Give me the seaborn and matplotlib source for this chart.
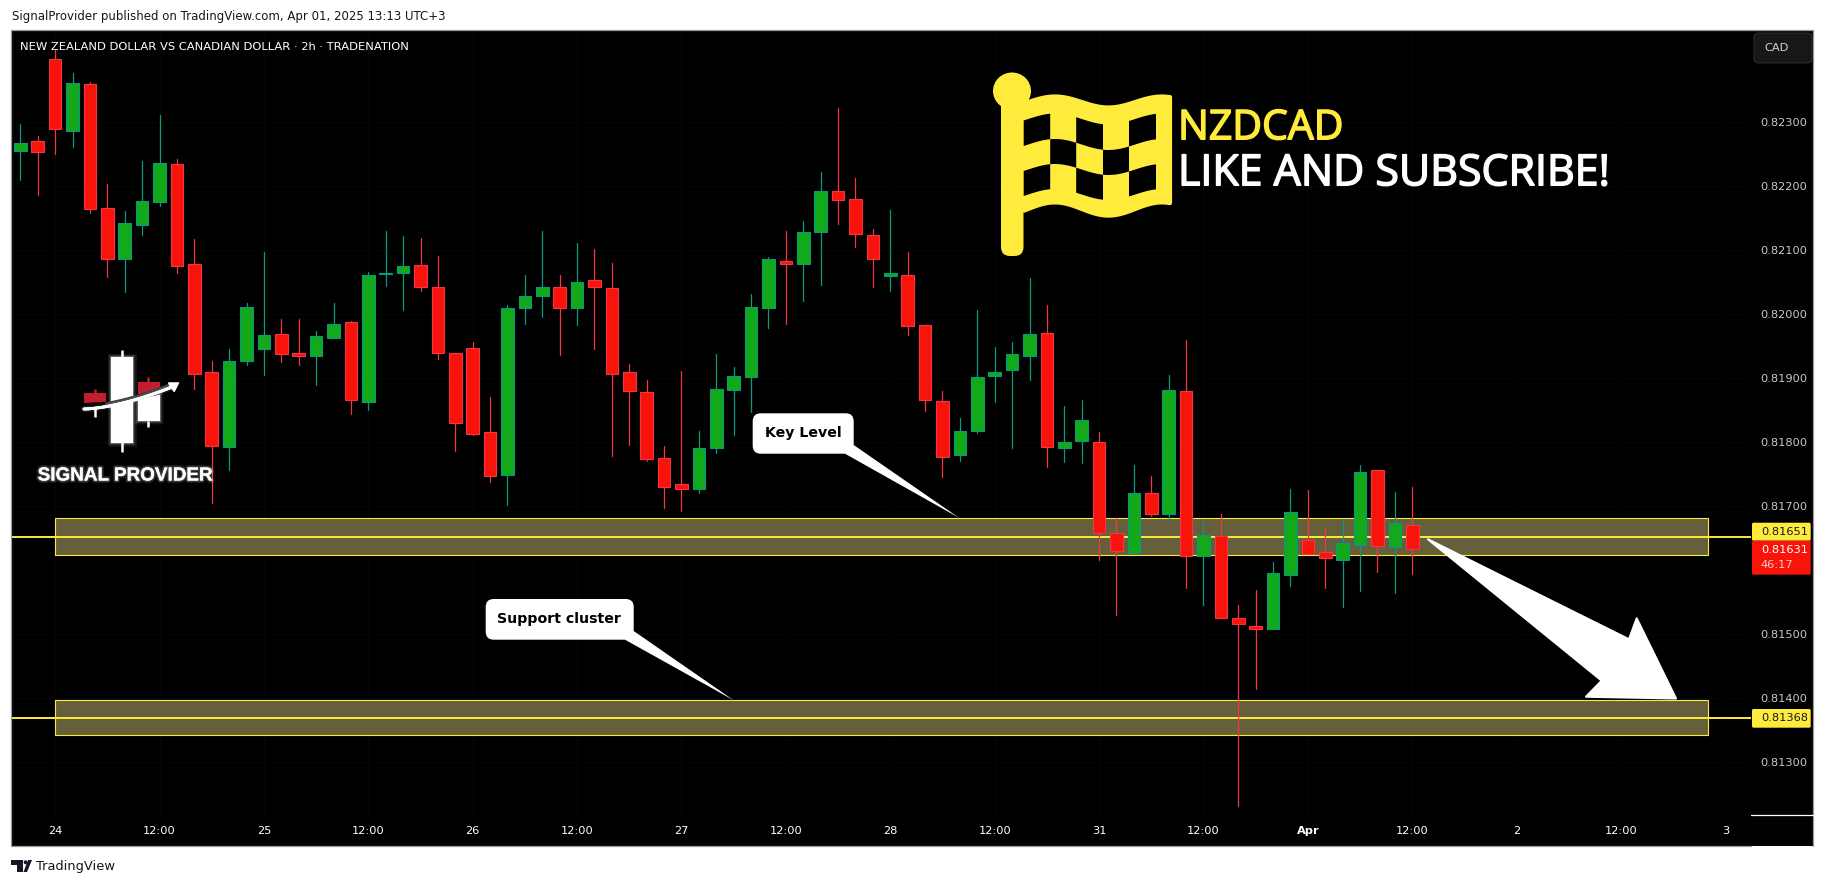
import numpy as np
import pandas as pd
import seaborn as sns
from matplotlib import pyplot as plt
from matplotlib.patches import Polygon, Rectangle, FancyBboxPatch, Ellipse
from matplotlib.transforms import Affine2D
import matplotlib.patheffects as pe

# 2h candles
opens = [0.82256, 0.82271, 0.82399, 0.82287, 0.82360, 0.82166, 0.82087, 0.82140, 0.82176, 0.82235,
         0.82078, 0.81909, 0.81793, 0.81926, 0.81945, 0.81969, 0.81939, 0.81935, 0.81962, 0.81987,
         0.81863, 0.82063, 0.82064, 0.82077, 0.82042, 0.81939, 0.81947, 0.81815, 0.81749, 0.82009,
         0.82029, 0.82042, 0.82010, 0.82053, 0.82041, 0.81909, 0.81879, 0.81775, 0.81735, 0.81726,
         0.81791, 0.81882, 0.81901, 0.82010, 0.82083, 0.82079, 0.82129, 0.82192, 0.82180, 0.82124,
         0.82059, 0.82062, 0.81983, 0.81864, 0.81780, 0.81818, 0.81904, 0.81912, 0.81935, 0.81970,
         0.81790, 0.81801, 0.81800, 0.81657, 0.81627, 0.81720, 0.81687, 0.81880, 0.81621, 0.81653,
         0.81524, 0.81513, 0.81508, 0.81592, 0.81646, 0.81628, 0.81616, 0.81639, 0.81756, 0.81636,
         0.81670]
highs = [0.82298, 0.82279, 0.82413, 0.82378, 0.82364, 0.82204, 0.82162, 0.82239, 0.82312, 0.82243,
         0.82118, 0.81927, 0.81946, 0.82018, 0.82097, 0.81993, 0.81993, 0.81974, 0.82018, 0.81989,
         0.82066, 0.82130, 0.82123, 0.82119, 0.82091, 0.81939, 0.81957, 0.81871, 0.82015, 0.82062,
         0.82130, 0.82062, 0.82112, 0.82102, 0.82080, 0.81922, 0.81897, 0.81794, 0.81911, 0.81817,
         0.81938, 0.81918, 0.82032, 0.82090, 0.82130, 0.82146, 0.82223, 0.82323, 0.82213, 0.82134,
         0.82163, 0.82098, 0.81983, 0.81880, 0.81838, 0.82007, 0.81949, 0.81957, 0.82057, 0.82014,
         0.81856, 0.81866, 0.81816, 0.81681, 0.81764, 0.81747, 0.81905, 0.81960, 0.81676, 0.81687,
         0.81545, 0.81569, 0.81613, 0.81727, 0.81725, 0.81667, 0.81680, 0.81764, 0.81756, 0.81722,
         0.81730]
lows = [0.82210, 0.82187, 0.82251, 0.82262, 0.82159, 0.82058, 0.82035, 0.82124, 0.82170, 0.82065,
        0.81883, 0.81705, 0.81756, 0.81921, 0.81905, 0.81925, 0.81921, 0.81889, 0.81962, 0.81844,
        0.81850, 0.82044, 0.82007, 0.82036, 0.81930, 0.81786, 0.81811, 0.81738, 0.81702, 0.81985,
        0.81996, 0.81936, 0.81983, 0.81946, 0.81778, 0.81795, 0.81770, 0.81697, 0.81692, 0.81720,
        0.81783, 0.81811, 0.81847, 0.81979, 0.81985, 0.82021, 0.82046, 0.82141, 0.82105, 0.82043,
        0.82036, 0.81967, 0.81848, 0.81746, 0.81771, 0.81814, 0.81863, 0.81791, 0.81897, 0.81761,
        0.81769, 0.81767, 0.81615, 0.81529, 0.81627, 0.81684, 0.81678, 0.81571, 0.81545, 0.81525,
        0.81230, 0.81413, 0.81508, 0.81575, 0.81625, 0.81571, 0.81542, 0.81567, 0.81596, 0.81564,
        0.81593]
closes = [0.82268, 0.82253, 0.82289, 0.82361, 0.82164, 0.82086, 0.82142, 0.82177, 0.82236, 0.82076,
          0.81907, 0.81794, 0.81926, 0.82011, 0.81967, 0.81937, 0.81934, 0.81966, 0.81984, 0.81865,
          0.82061, 0.82064, 0.82075, 0.82043, 0.81940, 0.81830, 0.81813, 0.81747, 0.82009, 0.82028,
          0.82042, 0.82010, 0.82050, 0.82042, 0.81907, 0.81880, 0.81774, 0.81730, 0.81727, 0.81790,
          0.81883, 0.81903, 0.82011, 0.82086, 0.82079, 0.82128, 0.82192, 0.82178, 0.82126, 0.82086,
          0.82064, 0.81981, 0.81865, 0.81777, 0.81818, 0.81901, 0.81909, 0.81937, 0.81969, 0.81792,
          0.81800, 0.81835, 0.81658, 0.81629, 0.81720, 0.81688, 0.81881, 0.81622, 0.81654, 0.81525,
          0.81516, 0.81507, 0.81595, 0.81691, 0.81625, 0.81618, 0.81642, 0.81753, 0.81638, 0.81673,
          0.81632]

tick_bars = [2, 8, 14, 20, 26, 32, 38, 44, 50, 56, 62, 68, 74, 80, 86, 92, 98]
tick_labels = ['24', '12:00', '25', '12:00', '26', '12:00', '27', '12:00', '28', '12:00',
               '31', '12:00', 'Apr', '12:00', '2', '12:00', '3']
price_ticks = [0.823, 0.822, 0.821, 0.820, 0.819, 0.818, 0.817, 0.815, 0.814, 0.813]

key_level = 0.81651
key_zone = (0.81624, 0.81681)
support_level = 0.81368
support_zone = (0.81341, 0.81396)
zone_bars = (2, 97)
last_price = '0.81631'
countdown = '46:17'

UP_BODY, UP_WICK = '#12A91B', '#089981'
DOWN_BODY, DOWN_WICK = '#F8140A', '#F23645'
YELLOW = '#FFEB3B'

W, H = 1825, 886

candles = pd.DataFrame({'bar': np.arange(len(opens)), 'open': opens, 'high': highs,
                        'low': lows, 'close': closes})
candles['dir'] = np.where(candles['close'] >= candles['open'], 'up', 'down')
candles['bottom'] = candles[['open', 'close']].min(axis=1)
candles['body'] = (candles['close'] - candles['open']).abs()
wicks = candles.melt(id_vars=['bar', 'dir'], value_vars=['high', 'low'], value_name='price')

sns.set_theme(style='white')
plt.rcParams['font.family'] = ['DejaVu Sans']

fig = plt.figure(figsize=(W / 100, H / 100), dpi=100, facecolor='white')
ax = fig.add_axes([12 / W, 1 - 816 / H, (1751 - 12) / W, (816 - 31) / H], facecolor='black')

# overlay coordinates in screen pixels, for the drawn annotations only
px = Affine2D().scale(1 / W, -1 / H).translate(0, 1) + fig.transFigure

# zones and level lines sit below the candles
for low, high in (key_zone, support_zone):
    ax.add_patch(Rectangle((zone_bars[0], low), zone_bars[1] - zone_bars[0], high - low, facecolor='#665F3B',
                           edgecolor=YELLOW, linewidth=0.8, zorder=1.5))
for level in (key_level, support_level):
    ax.axhline(level, color=YELLOW, linewidth=1.4, zorder=1.6)

sns.lineplot(data=wicks, x='bar', y='price', hue='dir', units='bar', estimator=None,
             palette={'up': UP_WICK, 'down': DOWN_WICK}, linewidth=0.9, legend=False,
             sort=False, zorder=2.5, ax=ax)
for side, body, edge in (('up', UP_BODY, UP_WICK), ('down', DOWN_BODY, DOWN_WICK)):
    part = candles[candles['dir'] == side]
    sns.barplot(data=part, x='bar', y='body', bottom=part['bottom'].values, native_scale=True,
                width=0.73, color=body, saturation=1, edgecolor=edge, linewidth=0.8, zorder=3, ax=ax)

ax.set_xlim((12 - 20.3) / 17.4, (1751 - 20.3) / 17.4)
ax.set_ylim(0.81215, 0.82443)
ax.set_xlabel('')
ax.set_ylabel('')
ax.yaxis.tick_right()
ax.set_xticks(tick_bars)
ax.set_xticklabels(tick_labels, color='white', fontsize=8.2)
ax.set_yticks(price_ticks)
ax.set_yticklabels([f'{p:.5f}' for p in price_ticks], color='#C8C8C8', fontsize=8.2)
ax.tick_params(axis='x', length=0, pad=7.5, bottom=True)
ax.tick_params(axis='y', length=0, pad=6.5, right=True, left=False)
ax.set_axisbelow(True)
ax.grid(True, color='#070707', linewidth=0.7)
for lab in ax.get_xticklabels():
    if lab.get_text() == 'Apr':
        lab.set_fontweight('bold')
for s in ax.spines.values():
    s.set_visible(False)

# frame, time scale and price scale
fig.patches.extend([
    Rectangle((12, 816), 1739, 30, transform=px, facecolor='black', edgecolor='none', zorder=-1),
    Rectangle((1751, 31), 62, 815, transform=px, facecolor='black', edgecolor='none', zorder=-1),
])
for xs, ys, col in (([11.5, 1751], [846, 846], '#9A9A9A'),
                    ([1813, 1813], [846, 30], '#9A9A9A'),
                    ([11.5, 11.5, 1813], [846, 30, 30], '#9A9A9A'),
                    ([1751, 1813], [815.5, 815.5], 'white')):
    fig.add_artist(plt.Line2D(xs, ys, transform=px, color=col, linewidth=0.9, zorder=1))

# price labels
for y0, y1, col in ((522.7, 540.7, YELLOW), (709, 727.7, YELLOW), (540.7, 574.7, '#F8140A')):
    fig.add_artist(FancyBboxPatch((1752, y0), 58.7, y1 - y0, boxstyle='round,pad=0,rounding_size=1.5',
                                  transform=px, facecolor=col, edgecolor='none', zorder=3))
fig.text(1761, 532, f'{key_level:.5f}', transform=px, color='#131722', fontsize=8.2, va='center', zorder=4)
fig.text(1761, 718.5, f'{support_level:.5f}', transform=px, color='#131722', fontsize=8.2, va='center', zorder=4)
fig.text(1761, 550.5, last_price, transform=px, color='white', fontsize=8.2, va='center', zorder=4)
fig.text(1761, 565.5, countdown, transform=px, color='#FFC9C5', fontsize=8.2, va='center', zorder=4)

# currency button
fig.add_artist(FancyBboxPatch((1754, 33), 58, 30, boxstyle='round,pad=0,rounding_size=5', transform=px,
                              facecolor='#171717', edgecolor='#2B2B2B', linewidth=0.8, zorder=3))
fig.text(1777, 48, 'CAD', transform=px, color='#D4D4D4', fontsize=8.2, ha='center', va='center', zorder=4)

# header and footer text
fig.text(12, 16.5, 'SignalProvider published on TradingView.com, Apr 01, 2025 13:13 UTC+3', transform=px,
         color='#131722', fontsize=8.45, va='center')
ax.text(20, 47, 'NEW ZEALAND DOLLAR VS CANADIAN DOLLAR · 2h · TRADENATION', transform=px,
        color='white', fontsize=8.25, va='center', zorder=6)
fig.text(36.5, 867, 'TradingView', transform=px, color='#131722', fontsize=9.4, va='center')
fig.add_artist(Polygon([(11, 860), (23, 860), (23, 872), (17, 872), (17, 865), (11, 865)], transform=px,
                       facecolor='#131722', edgecolor='none'))
fig.add_artist(Ellipse((25.5, 862.3), 3.6, 4, transform=px, facecolor='#131722', edgecolor='none'))
fig.add_artist(Polygon([(27, 872), (23.5, 872), (28, 860), (32, 860)], transform=px,
                       facecolor='#131722', edgecolor='none'))


def callout(box, tail, label, center):
    x0, y0, x1, y1 = box
    ax.add_patch(FancyBboxPatch((x0, y0), x1 - x0, y1 - y0, boxstyle='round,pad=0,rounding_size=8',
                                transform=px, facecolor='white', edgecolor='none', zorder=6))
    ax.add_patch(Polygon(tail, transform=px, facecolor='white', edgecolor='none', zorder=6))
    ax.text(center[0], center[1], label, transform=px, color='black', fontsize=10.2, fontweight='bold',
            ha='center', va='center', zorder=7)


callout((752.7, 413.3, 853.7, 453.7), [(853.7, 445), (845, 453.7), (959.3, 518)], 'Key Level', (803, 433))
callout((485.7, 599, 633.7, 639.7), [(633.7, 631), (625, 639.7), (733.7, 700.3)], 'Support cluster', (559, 619))

# big arrow
ax.add_patch(Polygon([(1428, 539.3), (1629, 639.3), (1636.7, 618.3), (1676, 698.5), (1586, 696.7),
                      (1601.7, 680.7)], transform=px, facecolor='white', edgecolor='white',
                     linewidth=1.5, joinstyle='round', zorder=6))

# checkered flag
wave = lambda x: -5.5 * np.cos(2 * np.pi * (x - 1055) / 107)
xs = np.linspace(1024, 1170, 60)
flag = list(zip(xs, 102 + wave(xs))) + list(zip(xs[::-1], 209 + 1.2 * wave(xs[::-1])))
ax.add_patch(Polygon(flag, transform=px, facecolor=YELLOW, edgecolor=YELLOW, linewidth=3,
                     joinstyle='round', zorder=6))
ax.add_patch(Ellipse((1012, 91), 38, 37, transform=px, facecolor=YELLOW, edgecolor='none', zorder=6))
ax.add_patch(FancyBboxPatch((1001, 92), 22.5, 164, boxstyle='round,pad=0,rounding_size=9', transform=px,
                            facecolor=YELLOW, edgecolor='none', zorder=6))
levels = [119, 144.5, 169.5, 194.5]
cols = [1023.7, 1050.2, 1076.2, 1103, 1129, 1156]
for row, col in ((0, 0), (0, 2), (0, 4), (1, 1), (1, 3), (2, 0), (2, 2), (2, 4)):
    cx = np.linspace(cols[col], cols[col + 1], 12)
    cell = list(zip(cx, levels[row] + wave(cx))) + list(zip(cx[::-1], levels[row + 1] + wave(cx[::-1])))
    ax.add_patch(Polygon(cell, transform=px, facecolor='black', edgecolor='none', zorder=7))
ax.text(1178, 129, 'NZDCAD', transform=px, color=YELLOW, fontsize=29.5, family='Open Sans',
        va='center', zorder=7, path_effects=[pe.withStroke(linewidth=1.1, foreground=YELLOW)])
ax.text(1178, 174, 'LIKE AND SUBSCRIBE!', transform=px, color='white', fontsize=30.9, family='Open Sans',
        va='center', zorder=7, path_effects=[pe.withStroke(linewidth=1.1, foreground='white')])

# Signal Provider logo
glow = [pe.withStroke(linewidth=5, foreground='white', alpha=0.08),
        pe.withStroke(linewidth=3, foreground='white', alpha=0.12),
        pe.withStroke(linewidth=1.2, foreground='white', alpha=0.3)]
for pts, col in (([(111, 357), (133, 357), (133, 443), (111, 443)], 'white'),
                 ([(138, 400), (160, 395), (160, 421), (138, 421)], 'white'),
                 ([(138, 382), (160, 382), (160, 389), (138, 395)], '#C41E2E'),
                 ([(84, 393), (106, 393), (106, 401.7), (84, 403)], '#C41E2E')):
    ax.add_patch(Polygon(pts, transform=px, facecolor=col, edgecolor='none', zorder=6,
                         path_effects=glow if col == 'white' else None))
for x0, y0, y1, col in ((122, 350, 452, 'white'), (148.5, 421, 427, 'white'), (148.5, 377, 382, '#C41E2E'),
                        (95, 389, 393, '#C41E2E'), (95, 407, 417, 'white')):
    ax.plot([x0, x0], [y0, y1], transform=px, color=col, linewidth=1.8, zorder=6, solid_capstyle='butt')
sx = np.linspace(84, 172, 40)
sy = 409 - 22 * ((sx - 84) / 88) ** 1.6
ax.plot(sx[sx > 106], sy[sx > 106] - 3, transform=px, color='#3C3C40', linewidth=2.2, zorder=7)
ax.plot(sx, sy, transform=px, color='white', linewidth=2, zorder=7, path_effects=glow)
ax.add_patch(Polygon([(179, 382.7), (174.3, 392), (170, 386.7), (168.3, 382.7)], transform=px, facecolor='white',
                     edgecolor='white', linewidth=0.5, zorder=7))
ax.text(125, 476, 'SIGNAL PROVIDER', transform=px, color='white', fontsize=13.6, fontweight='bold',
        family='Liberation Sans', ha='center', va='center', zorder=7,
        path_effects=[pe.withStroke(linewidth=3.5, foreground='white', alpha=0.12),
                      pe.withStroke(linewidth=1.5, foreground='white', alpha=0.2)])

fig.savefig('out.png', dpi=100, facecolor='white')
